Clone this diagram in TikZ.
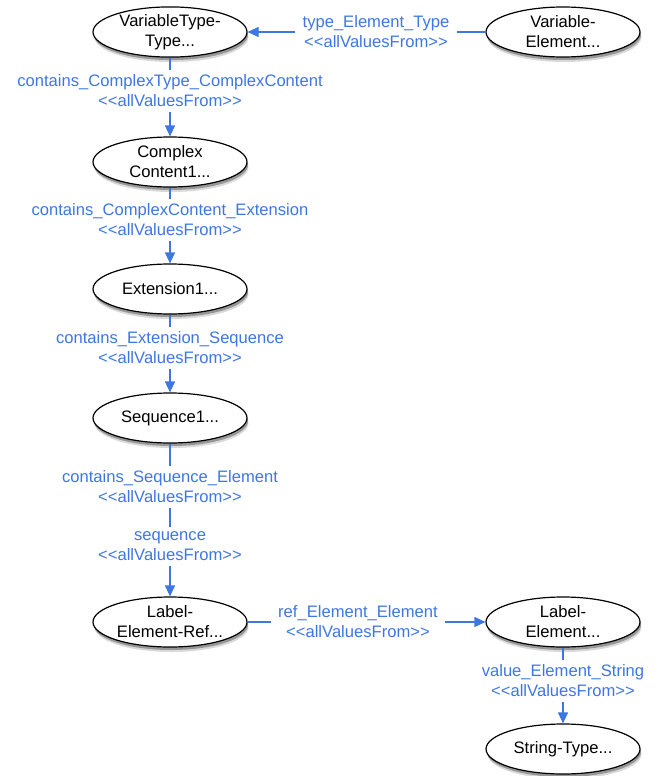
\documentclass[tikz,border=0pt]{standalone}
\usepackage{fontspec}
\setmainfont{Liberation Sans}
\usetikzlibrary{shapes.geometric,arrows.meta,shadows}
\definecolor{edgeblue}{RGB}{62,118,226}
\newcommand{\avf}{<{}<allValuesFrom>{}>}
\begin{document}
\begin{tikzpicture}[x=1pt,y=-1pt,
  every node/.style={font=\fontsize{16.6}{20}\selectfont},
  cls/.style={ellipse, draw=black, line width=1.2pt, fill=white,
    minimum width=154pt, minimum height=50pt, inner sep=0pt, align=center,
    general shadow={shadow xshift=1.5pt, shadow yshift=-5pt, fill=black, opacity=0.15, scale=1.01},
    general shadow={shadow xshift=1pt, shadow yshift=-3pt, fill=black, opacity=0.3}},
  lbl/.style={text=edgeblue, align=center, inner xsep=7pt, inner ysep=5pt},
  ln/.style={draw=edgeblue, line width=1.2pt},
  arr/.style={ln, -{Triangle[length=11pt,width=10pt]}}]
\useasboundingbox (0,0) rectangle (659,776);
% nodes
\node[cls] (n1) at (170,32) {VariableType-\\Type...};
\node[cls] (n2) at (563,32) {Variable-\\Element...};
\node[cls] (n3) at (170,162) {Complex\\Content1...};
\node[cls] (n4) at (170,289) {Extension1...};
\node[cls] (n5) at (170,418) {Sequence1...};
\node[cls] (n6) at (170,622) {Label-\\Element-Ref...};
\node[cls] (n7) at (563,622) {Label-\\Element...};
\node[cls] (n8) at (563,749) {String-Type...};
% labels
\node[lbl] (l1) at (376,32) {type\_Element\_Type\\\avf};
\node[lbl] (l2) at (170,91) {contains\_ComplexType\_ComplexContent\\\avf};
\node[lbl] (l3) at (170,220) {contains\_ComplexContent\_Extension\\\avf};
\node[lbl] (l4) at (170,348) {contains\_Extension\_Sequence\\\avf};
\node[lbl] (l5a) at (170,487) {contains\_Sequence\_Element\\\avf};
\node[lbl] (l5b) at (170,546.5) {sequence\\\avf};
\node[lbl] (l6) at (358,622) {ref\_Element\_Element\\\avf};
\node[lbl] (l7) at (563,681) {value\_Element\_String\\\avf};
% connectors
\draw[ln] (n2) -- (l1);
\draw[arr] (l1) -- (n1);
\draw[ln] (n1) -- (l2);
\draw[arr] (l2) -- (n3);
\draw[ln] (n3) -- (l3);
\draw[arr] (l3) -- (n4);
\draw[ln] (n4) -- (l4);
\draw[arr] (l4) -- (n5);
\draw[ln] (n5) -- (l5a);
\draw[ln] (l5a) -- (l5b);
\draw[arr] (l5b) -- (n6);
\draw[ln] (n6) -- (l6);
\draw[arr] (l6) -- (n7);
\draw[ln] (n7) -- (l7);
\draw[arr] (l7) -- (n8);
\end{tikzpicture}
\end{document}
